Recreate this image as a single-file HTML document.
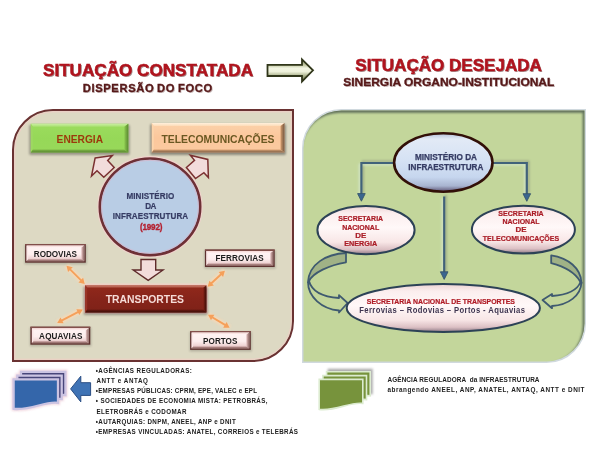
<!DOCTYPE html>
<html><head><meta charset="utf-8"><title>Situação</title>
<style>
html,body{margin:0;padding:0;background:#ffffff;width:616px;height:462px;overflow:hidden}
svg{display:block;will-change:transform;filter:blur(0.35px)}
text{font-family:"Liberation Sans", sans-serif}
</style></head>
<body>
<svg width="616" height="462" viewBox="0 0 616 462">
<defs>
<linearGradient id="gArrow" gradientUnits="userSpaceOnUse" x1="0" y1="59" x2="0" y2="82">
 <stop offset="0" stop-color="#8a9068"/><stop offset="0.27" stop-color="#c4caa4"/><stop offset="0.4" stop-color="#f2f5e2"/><stop offset="0.55" stop-color="#eef1da"/><stop offset="0.75" stop-color="#a4ac84"/><stop offset="1" stop-color="#747c54"/>
</linearGradient>
<linearGradient id="gSmall" x1="0" y1="0" x2="0" y2="1">
 <stop offset="0" stop-color="#fbeeee"/><stop offset="0.35" stop-color="#ffffff"/><stop offset="0.7" stop-color="#f6e4e4"/><stop offset="1" stop-color="#c89a9a"/>
</linearGradient>
<linearGradient id="gTrans" x1="0" y1="0" x2="0" y2="1">
 <stop offset="0" stop-color="#962b1c"/><stop offset="1" stop-color="#7c2216"/>
</linearGradient>
<linearGradient id="gEllB" x1="0" y1="0" x2="0" y2="1">
 <stop offset="0" stop-color="#b4c0d8"/><stop offset="0.1" stop-color="#e2eaf6"/><stop offset="0.45" stop-color="#d6e2f4"/><stop offset="0.75" stop-color="#c6d6ee"/><stop offset="0.9" stop-color="#a8b4d0"/><stop offset="1" stop-color="#5a5070"/>
</linearGradient>
<linearGradient id="gEllP" x1="0" y1="0" x2="0" y2="1">
 <stop offset="0" stop-color="#ecd2d2"/><stop offset="0.15" stop-color="#fbeeee"/><stop offset="0.45" stop-color="#fff8f8"/><stop offset="0.75" stop-color="#f8e6e6"/><stop offset="0.9" stop-color="#dcc0c4"/><stop offset="1" stop-color="#8e7a86"/>
</linearGradient>
<radialGradient id="gEdge" cx="0.5" cy="0.5" r="0.5">
 <stop offset="0.8" stop-color="#000" stop-opacity="0"/><stop offset="1" stop-color="#402030" stop-opacity="0.25"/>
</radialGradient>
<filter id="blur1" x="-20%" y="-20%" width="140%" height="140%"><feGaussianBlur stdDeviation="1"/></filter>
<filter id="blur2" x="-20%" y="-20%" width="140%" height="140%"><feGaussianBlur stdDeviation="1.6"/></filter>
<filter id="tsh" x="-5%" y="-20%" width="110%" height="140%"><feGaussianBlur stdDeviation="0.6"/></filter>
<linearGradient id="g1" x1="0" y1="0" x2="0" y2="1"><stop offset="0" stop-color="#9cdc5e"/><stop offset="0.5" stop-color="#96d858"/><stop offset="1" stop-color="#98d85a"/></linearGradient><linearGradient id="g2" x1="0" y1="0" x2="0" y2="1"><stop offset="0" stop-color="#c8eea0"/><stop offset="1" stop-color="#a8e070"/></linearGradient><linearGradient id="g3" x1="0" y1="0" x2="1" y2="0"><stop offset="0" stop-color="#8cc850"/><stop offset="1" stop-color="#5a8a30"/></linearGradient><linearGradient id="g4" x1="0" y1="0" x2="0" y2="1"><stop offset="0" stop-color="#80b848"/><stop offset="1" stop-color="#5a8a30"/></linearGradient><linearGradient id="g5" x1="0" y1="0" x2="0" y2="1"><stop offset="0" stop-color="#fcd2aa"/><stop offset="0.5" stop-color="#fbc79c"/><stop offset="1" stop-color="#fbcaa0"/></linearGradient><linearGradient id="g6" x1="0" y1="0" x2="0" y2="1"><stop offset="0" stop-color="#fff0dc"/><stop offset="1" stop-color="#fddcb8"/></linearGradient><linearGradient id="g7" x1="0" y1="0" x2="1" y2="0"><stop offset="0" stop-color="#d49c6c"/><stop offset="1" stop-color="#725640"/></linearGradient><linearGradient id="g8" x1="0" y1="0" x2="0" y2="1"><stop offset="0" stop-color="#d8a274"/><stop offset="1" stop-color="#7e5e44"/></linearGradient><linearGradient id="g9" x1="0" y1="0" x2="0" y2="1"><stop offset="0" stop-color="#92291b"/><stop offset="0.5" stop-color="#86241a"/><stop offset="1" stop-color="#7e2218"/></linearGradient><linearGradient id="g10" x1="0" y1="0" x2="0" y2="1"><stop offset="0" stop-color="#d08878"/><stop offset="1" stop-color="#a84838"/></linearGradient><linearGradient id="g11" x1="0" y1="0" x2="1" y2="0"><stop offset="0" stop-color="#7a1e14"/><stop offset="1" stop-color="#3e0e08"/></linearGradient><linearGradient id="g12" x1="0" y1="0" x2="0" y2="1"><stop offset="0" stop-color="#6a1a12"/><stop offset="1" stop-color="#3e0e08"/></linearGradient><linearGradient id="g13" x1="0" y1="0" x2="0" y2="1"><stop offset="0" stop-color="#fff4f4"/><stop offset="0.55" stop-color="#fdeeee"/><stop offset="0.8" stop-color="#f0d6d6"/><stop offset="1" stop-color="#d8b4b4"/></linearGradient><linearGradient id="g14" x1="0" y1="0" x2="0" y2="1"><stop offset="0" stop-color="#f6d8d6"/><stop offset="1" stop-color="#fff0f0"/></linearGradient><linearGradient id="g15" x1="0" y1="0" x2="1" y2="0"><stop offset="0" stop-color="#e6c4c4"/><stop offset="1" stop-color="#8a6460"/></linearGradient><linearGradient id="g16" x1="0" y1="0" x2="0" y2="1"><stop offset="0" stop-color="#c49c9c"/><stop offset="1" stop-color="#8a6460"/></linearGradient><linearGradient id="g17" x1="0" y1="0" x2="0" y2="1"><stop offset="0" stop-color="#fff4f4"/><stop offset="0.55" stop-color="#fdeeee"/><stop offset="0.8" stop-color="#f0d6d6"/><stop offset="1" stop-color="#d8b4b4"/></linearGradient><linearGradient id="g18" x1="0" y1="0" x2="0" y2="1"><stop offset="0" stop-color="#f6d8d6"/><stop offset="1" stop-color="#fff0f0"/></linearGradient><linearGradient id="g19" x1="0" y1="0" x2="1" y2="0"><stop offset="0" stop-color="#e6c4c4"/><stop offset="1" stop-color="#8a6460"/></linearGradient><linearGradient id="g20" x1="0" y1="0" x2="0" y2="1"><stop offset="0" stop-color="#c49c9c"/><stop offset="1" stop-color="#8a6460"/></linearGradient><linearGradient id="g21" x1="0" y1="0" x2="0" y2="1"><stop offset="0" stop-color="#fff4f4"/><stop offset="0.55" stop-color="#fdeeee"/><stop offset="0.8" stop-color="#f0d6d6"/><stop offset="1" stop-color="#d8b4b4"/></linearGradient><linearGradient id="g22" x1="0" y1="0" x2="0" y2="1"><stop offset="0" stop-color="#f6d8d6"/><stop offset="1" stop-color="#fff0f0"/></linearGradient><linearGradient id="g23" x1="0" y1="0" x2="1" y2="0"><stop offset="0" stop-color="#e6c4c4"/><stop offset="1" stop-color="#8a6460"/></linearGradient><linearGradient id="g24" x1="0" y1="0" x2="0" y2="1"><stop offset="0" stop-color="#c49c9c"/><stop offset="1" stop-color="#8a6460"/></linearGradient><linearGradient id="g25" x1="0" y1="0" x2="0" y2="1"><stop offset="0" stop-color="#fff4f4"/><stop offset="0.55" stop-color="#fdeeee"/><stop offset="0.8" stop-color="#f0d6d6"/><stop offset="1" stop-color="#d8b4b4"/></linearGradient><linearGradient id="g26" x1="0" y1="0" x2="0" y2="1"><stop offset="0" stop-color="#f6d8d6"/><stop offset="1" stop-color="#fff0f0"/></linearGradient><linearGradient id="g27" x1="0" y1="0" x2="1" y2="0"><stop offset="0" stop-color="#e6c4c4"/><stop offset="1" stop-color="#8a6460"/></linearGradient><linearGradient id="g28" x1="0" y1="0" x2="0" y2="1"><stop offset="0" stop-color="#c49c9c"/><stop offset="1" stop-color="#8a6460"/></linearGradient></defs>
<text x="44" y="77" font-size="16.8" font-weight="bold" fill="#3a0808" text-anchor="start" textLength="210" lengthAdjust="spacingAndGlyphs" opacity="0.45" filter="url(#tsh)">SITUAÇÃO CONSTATADA</text><text x="43" y="76" font-size="16.8" font-weight="bold" fill="#b0141e" text-anchor="start" textLength="210" lengthAdjust="spacingAndGlyphs" stroke="#b0141e" stroke-width="0.5">SITUAÇÃO CONSTATADA</text>
<text x="83.8" y="92.8" font-size="11.2" font-weight="bold" fill="#3a0808" text-anchor="start" textLength="129.3" lengthAdjust="spacing" opacity="0.25" filter="url(#tsh)">DISPERSÃO DO FOCO</text><text x="82.8" y="91.8" font-size="11.2" font-weight="bold" fill="#561818" text-anchor="start" textLength="129.3" lengthAdjust="spacing" stroke="#561818" stroke-width="0.35">DISPERSÃO DO FOCO</text>
<text x="356.3" y="71.5" font-size="16.8" font-weight="bold" fill="#3a0808" text-anchor="start" textLength="186.5" lengthAdjust="spacingAndGlyphs" opacity="0.45" filter="url(#tsh)">SITUAÇÃO DESEJADA</text><text x="355.3" y="70.5" font-size="16.8" font-weight="bold" fill="#b0141e" text-anchor="start" textLength="186.5" lengthAdjust="spacingAndGlyphs" stroke="#b0141e" stroke-width="0.5">SITUAÇÃO DESEJADA</text>
<text x="344.3" y="87" font-size="11.2" font-weight="bold" fill="#3a0808" text-anchor="start" textLength="211" lengthAdjust="spacingAndGlyphs" opacity="0.25" filter="url(#tsh)">SINERGIA ORGANO-INSTITUCIONAL</text><text x="343.3" y="86" font-size="11.2" font-weight="bold" fill="#561818" text-anchor="start" textLength="211" lengthAdjust="spacingAndGlyphs" stroke="#561818" stroke-width="0.35">SINERGIA ORGANO-INSTITUCIONAL</text>
<path d="M267.5,64.8 H302 V59.3 L313,70.3 L302,81.5 V76 H267.5 Z" fill="url(#gArrow)" stroke="#30361a" stroke-width="1.8" stroke-linejoin="miter"/>
<path d="M53,110 H293 V321 A40 40 0 0 1 253 361 H13 V150 A40 40 0 0 1 53 110 Z" fill="#ddd9c3" stroke="#6a3232" stroke-width="2"/>
<path d="M53,111.8 H291.2 V321 A38.2 38.2 0 0 1 253 359.2 H14.8 V150 A38.2 38.2 0 0 1 53 111.8 Z" fill="none" stroke="#f0cec6" stroke-width="1" opacity="1"/>
<rect x="29.2" y="124.8" width="100.5" height="30.200000000000003" rx="1.5" fill="#000" opacity="0.3" filter="url(#blur1)"/><rect x="30.8" y="123.8" width="97.5" height="28.6" fill="url(#g1)"/><polygon points="30.8,123.8 128.3,123.8 124.30000000000001,126.8 32.8,126.8" fill="url(#g2)"/><polygon points="30.8,123.8 32.8,126.8 32.8,149.4 30.8,152.4" fill="#9ed862"/><polygon points="128.3,123.8 128.3,152.4 124.30000000000001,149.4 124.30000000000001,126.8" fill="url(#g3)"/><polygon points="30.8,152.4 128.3,152.4 124.30000000000001,149.4 32.8,149.4" fill="url(#g4)"/>
<text x="56.6" y="143.3" font-size="10.2" font-weight="bold" fill="#9c3a0c" text-anchor="start" textLength="46.4" lengthAdjust="spacingAndGlyphs" >ENERGIA</text>
<rect x="150.20000000000002" y="124" width="135.7" height="31.1" rx="1.5" fill="#000" opacity="0.36" filter="url(#blur1)"/><rect x="151.8" y="123" width="132.7" height="29.5" fill="url(#g5)"/><polygon points="151.8,123 284.5,123 280.5,126 153.8,126" fill="url(#g6)"/><polygon points="151.8,123 153.8,126 153.8,149.5 151.8,152.5" fill="#fcd4aa"/><polygon points="284.5,123 284.5,152.5 280.5,149.5 280.5,126" fill="url(#g7)"/><polygon points="151.8,152.5 284.5,152.5 280.5,149.5 153.8,149.5" fill="url(#g8)"/>
<text x="161.4" y="142.7" font-size="10.4" font-weight="bold" fill="#6a5822" text-anchor="start" textLength="113.1" lengthAdjust="spacingAndGlyphs" >TELECOMUNICAÇÕES</text>
<polygon points="95.1,158.1 112.3,155.5 107.7,160.4 114.2,167.5 103.8,177.3 97,170.8 91.5,176" fill="#f2dcdb" stroke="#7a3030" stroke-width="1.5" stroke-linejoin="miter"/>
<polygon points="190.3,155.2 207.8,159.4 208.4,177.6 203.9,172.7 195.5,178.6 186.4,167.5 194.5,160.4" fill="#f2dcdb" stroke="#7a3030" stroke-width="1.5" stroke-linejoin="miter"/>
<ellipse cx="150" cy="206.8" rx="50.4" ry="48.5" fill="none" stroke="#f0d2cc" stroke-width="4.4"/>
<ellipse cx="150" cy="206.8" rx="50.2" ry="48.3" fill="#b9cde5" stroke="#6e3036" stroke-width="2.6"/>
<ellipse cx="150" cy="206.8" rx="48.4" ry="46.5" fill="none" stroke="#d8b4c8" stroke-width="0.9" opacity="0.8"/>
<text transform="translate(126.4,198.6) scale(0.9,1)" x="0" y="0" font-size="9" font-weight="bold" fill="#363c64" textLength="53.33" lengthAdjust="spacing" style="white-space:pre" stroke="#363c64" stroke-width="0.2">MINISTÉRIO</text>
<text transform="translate(145.20000000000002,208.7) scale(0.9,1)" x="0" y="0" font-size="9" font-weight="bold" fill="#363c64" textLength="12.44" lengthAdjust="spacing" style="white-space:pre" stroke="#363c64" stroke-width="0.2">DA</text>
<text transform="translate(112.69999999999999,218.9) scale(0.9,1)" x="0" y="0" font-size="9" font-weight="bold" fill="#363c64" textLength="83.89" lengthAdjust="spacing" style="white-space:pre" stroke="#363c64" stroke-width="0.2">INFRAESTRUTURA</text>
<text transform="translate(140.0,229.5) scale(0.9,1)" x="0" y="0" font-size="9" font-weight="bold" fill="#b42030" textLength="24.89" lengthAdjust="spacing" style="white-space:pre" stroke="#b42030" stroke-width="0.35">(1992)</text>
<polygon points="141,259.5 155.7,259.5 155.7,270 163,270 148.2,280.4 133.2,270 141,270" fill="#f2dcdb" stroke="#5e2a2a" stroke-width="1.4" stroke-linejoin="miter"/>
<rect x="83.6" y="283.6" width="124.4" height="30.5" rx="2.5" fill="#f4d0c6" opacity="0.9"/>
<rect x="83.60000000000001" y="286.2" width="124.2" height="28.900000000000002" rx="1.5" fill="#000" opacity="0.3" filter="url(#blur1)"/><rect x="85.2" y="285.2" width="121.2" height="27.3" fill="url(#g9)"/><polygon points="85.2,285.2 206.4,285.2 203.4,287.7 87.2,287.7" fill="url(#g10)"/><polygon points="85.2,285.2 87.2,287.7 87.2,309.5 85.2,312.5" fill="#9a3426"/><polygon points="206.4,285.2 206.4,312.5 203.4,309.5 203.4,287.7" fill="url(#g11)"/><polygon points="85.2,312.5 206.4,312.5 203.4,309.5 87.2,309.5" fill="url(#g12)"/>
<text x="105.7" y="302.7" font-size="10.4" font-weight="bold" fill="#f6dcd8" text-anchor="start" textLength="78.3" lengthAdjust="spacingAndGlyphs" >TRANSPORTES</text>
<rect x="24.6" y="244.9" width="62.2" height="19.400000000000002" fill="#000" opacity="0.18" filter="url(#blur1)"/><rect x="25.1" y="244.1" width="60.7" height="18.6" fill="#5e3230"/><rect x="25.1" y="244.1" width="60.7" height="1.4" fill="#84504c"/><rect x="26.6" y="245.6" width="57.7" height="15.600000000000001" fill="url(#g13)"/><polygon points="26.6,245.6 84.30000000000001,245.6 81.30000000000001,247.6 28.1,247.6" fill="url(#g14)"/><polygon points="26.6,245.6 28.1,247.6 28.1,259.2 26.6,261.2" fill="#fbe6e6"/><polygon points="84.30000000000001,245.6 84.30000000000001,261.2 81.30000000000001,259.2 81.30000000000001,247.6" fill="url(#g15)"/><polygon points="26.6,261.2 84.30000000000001,261.2 81.30000000000001,259.2 28.1,259.2" fill="url(#g16)"/><text transform="translate(33.8,256.5) scale(0.95,1)" x="0" y="0" font-size="8.6" font-weight="bold" fill="#1c1c1c" textLength="45.47" lengthAdjust="spacing" style="white-space:pre" >RODOVIAS</text>
<rect x="204.4" y="250.3" width="71.3" height="18.3" fill="#000" opacity="0.18" filter="url(#blur1)"/><rect x="204.9" y="249.5" width="69.8" height="17.5" fill="#5e3230"/><rect x="204.9" y="249.5" width="69.8" height="1.4" fill="#84504c"/><rect x="206.4" y="251.0" width="66.8" height="14.5" fill="url(#g17)"/><polygon points="206.4,251.0 273.2,251.0 270.2,253.0 207.9,253.0" fill="url(#g18)"/><polygon points="206.4,251.0 207.9,253.0 207.9,263.5 206.4,265.5" fill="#fbe6e6"/><polygon points="273.2,251.0 273.2,265.5 270.2,263.5 270.2,253.0" fill="url(#g19)"/><polygon points="206.4,265.5 273.2,265.5 270.2,263.5 207.9,263.5" fill="url(#g20)"/><text transform="translate(215.5,261.35) scale(0.95,1)" x="0" y="0" font-size="8.6" font-weight="bold" fill="#1c1c1c" textLength="50.74" lengthAdjust="spacing" style="white-space:pre" >FERROVIAS</text>
<rect x="29.9" y="327.5" width="61.4" height="18.8" fill="#000" opacity="0.18" filter="url(#blur1)"/><rect x="30.4" y="326.7" width="59.9" height="18" fill="#5e3230"/><rect x="30.4" y="326.7" width="59.9" height="1.4" fill="#84504c"/><rect x="31.9" y="328.2" width="56.9" height="15.0" fill="url(#g21)"/><polygon points="31.9,328.2 88.8,328.2 85.8,330.2 33.4,330.2" fill="url(#g22)"/><polygon points="31.9,328.2 33.4,330.2 33.4,341.2 31.9,343.2" fill="#fbe6e6"/><polygon points="88.8,328.2 88.8,343.2 85.8,341.2 85.8,330.2" fill="url(#g23)"/><polygon points="31.9,343.2 88.8,343.2 85.8,341.2 33.4,341.2" fill="url(#g24)"/><text transform="translate(39.1,338.8) scale(0.95,1)" x="0" y="0" font-size="8.6" font-weight="bold" fill="#1c1c1c" textLength="45.68" lengthAdjust="spacing" style="white-space:pre" >AQUAVIAS</text>
<rect x="189.6" y="331.8" width="62.2" height="19.7" fill="#000" opacity="0.18" filter="url(#blur1)"/><rect x="190.1" y="331" width="60.7" height="18.9" fill="#5e3230"/><rect x="190.1" y="331" width="60.7" height="1.4" fill="#84504c"/><rect x="191.6" y="332.5" width="57.7" height="15.899999999999999" fill="url(#g25)"/><polygon points="191.6,332.5 249.3,332.5 246.3,334.5 193.1,334.5" fill="url(#g26)"/><polygon points="191.6,332.5 193.1,334.5 193.1,346.4 191.6,348.4" fill="#fbe6e6"/><polygon points="249.3,332.5 249.3,348.4 246.3,346.4 246.3,334.5" fill="url(#g27)"/><polygon points="191.6,348.4 249.3,348.4 246.3,346.4 193.1,346.4" fill="url(#g28)"/><text transform="translate(203.1,343.55) scale(0.95,1)" x="0" y="0" font-size="8.6" font-weight="bold" fill="#1c1c1c" textLength="36.11" lengthAdjust="spacing" style="white-space:pre" >PORTOS</text>
<line x1="66.5" y1="265.8" x2="84.7" y2="284" stroke="#fbd8b4" stroke-width="5.4" opacity="0.75" filter="url(#blur1)"/><line x1="69.61126983722082" y1="268.9112698372208" x2="81.58873016277919" y2="280.8887301627792" stroke="#f5a05a" stroke-width="1.9"/><polygon points="66.50,265.80 68.06,272.02 72.72,267.36" fill="#f5a05a"/><polygon points="84.70,284.00 78.48,282.44 83.14,277.78" fill="#f5a05a"/>
<line x1="224.9" y1="270.8" x2="207.6" y2="286.8" stroke="#fbd8b4" stroke-width="5.4" opacity="0.75" filter="url(#blur1)"/><line x1="221.66972978210254" y1="273.7875331495006" x2="210.83027021789746" y2="283.81246685049945" stroke="#f5a05a" stroke-width="1.9"/><polygon points="224.90,270.80 218.62,272.11 223.10,276.96" fill="#f5a05a"/><polygon points="207.60,286.80 209.40,280.64 213.88,285.49" fill="#f5a05a"/>
<line x1="82.7" y1="309.5" x2="57.2" y2="322.9" stroke="#fbd8b4" stroke-width="5.4" opacity="0.75" filter="url(#blur1)"/><line x1="78.80503531072398" y1="311.5467657582862" x2="61.094964689276026" y2="320.8532342417138" stroke="#f5a05a" stroke-width="1.9"/><polygon points="82.70,309.50 76.30,309.14 79.37,314.98" fill="#f5a05a"/><polygon points="57.20,322.90 60.53,317.42 63.60,323.26" fill="#f5a05a"/>
<line x1="208" y1="314.7" x2="229.6" y2="327.7" stroke="#fbd8b4" stroke-width="5.4" opacity="0.75" filter="url(#blur1)"/><line x1="211.76988540936568" y1="316.968912514896" x2="225.8301145906343" y2="325.431087485104" stroke="#f5a05a" stroke-width="1.9"/><polygon points="208.00,314.70 211.01,320.36 214.41,314.71" fill="#f5a05a"/><polygon points="229.60,327.70 223.19,327.69 226.59,322.04" fill="#f5a05a"/>
<clipPath id="cpG"><path d="M342.5,110.5 H584.5 V323.5 A38 38 0 0 1 546.5 361.5 H303.5 V148.5 A38 38 0 0 1 342.5 110.5 Z"/></clipPath>
<path d="M342.5,110.5 H584.5 V323.5 A38 38 0 0 1 546.5 361.5 H303.5 V148.5 A38 38 0 0 1 342.5 110.5 Z" fill="none" stroke="#d0d9de" stroke-width="3"/>
<path d="M342.5,110.5 H584.5 V323.5 A38 38 0 0 1 546.5 361.5 H303.5 V148.5 A38 38 0 0 1 342.5 110.5 Z" fill="#c3d69b"/>
<g clip-path="url(#cpG)"><path d="M250,60 H650 V420 H250 Z M342.5,110.5 H584.5 V323.5 A38 38 0 0 1 546.5 361.5 H303.5 V148.5 A38 38 0 0 1 342.5 110.5 Z" fill="#5e6e5a" fill-rule="evenodd" transform="translate(-1.8,2.2)" filter="url(#blur1)" opacity="1"/></g>
<g stroke="#98a684" transform="translate(1.5,-1.5)" filter="url(#blur1)" opacity="0.9"><polyline points="394,163 361.4,163 361.4,195" fill="none" stroke-width="2.2"/><polyline points="493,163 526.8,163 526.8,195" fill="none" stroke-width="2.2"/><line x1="444.2" y1="196.5" x2="444.2" y2="273" stroke-width="2.2"/></g>
<g stroke="#d4e6cc" transform="translate(-1.5,1.5)" filter="url(#blur1)" opacity="0.9"><polyline points="394,163 361.4,163 361.4,195" fill="none" stroke-width="2.2"/><polyline points="493,163 526.8,163 526.8,195" fill="none" stroke-width="2.2"/><line x1="444.2" y1="196.5" x2="444.2" y2="273" stroke-width="2.2"/></g>
<g stroke="#41627a"><polyline points="394,163 361.4,163 361.4,195" fill="none" stroke-width="2.2"/><polyline points="493,163 526.8,163 526.8,195" fill="none" stroke-width="2.2"/><line x1="444.2" y1="196.5" x2="444.2" y2="273" stroke-width="2.2"/></g>
<polygon points="357.59999999999997,193.6 365.2,193.6 361.4,201.2" fill="#3a6690" stroke="#38566a" stroke-width="0.9" stroke-linejoin="round"/>
<polygon points="523.0,193.70000000000002 530.5999999999999,193.70000000000002 526.8,201.3" fill="#3a6690" stroke="#38566a" stroke-width="0.9" stroke-linejoin="round"/>
<polygon points="440.4,271.79999999999995 448.0,271.79999999999995 444.2,279.4" fill="#3a6690" stroke="#38566a" stroke-width="0.9" stroke-linejoin="round"/>
<path d="M346,253 C326,254 309,264 308,282 L309,281 C313,273 329,265 346,262.3 Z" fill="#a0b286" stroke="#3f5a70" stroke-width="1.8" stroke-linejoin="round"/>
<path d="M308,282 C308,297 322,309 339,310.5 V312.5 L347.6,303 L339,295.2 V298 C324,297 312,292 309,281" fill="none" stroke="#3f5a70" stroke-width="1.8" stroke-linejoin="round"/>
<path d="M551.2,255.4 C568,258 581,268 581.5,283 L580.5,282 C576,274 566,267 551.2,263.2 Z" fill="#a0b286" stroke="#3f5a70" stroke-width="1.8" stroke-linejoin="round"/>
<path d="M581.5,282 C581,296 568,305 552,306 V308.2 L542.5,300 L552,294 V296 C566,295 577,291 580.5,282" fill="none" stroke="#3f5a70" stroke-width="1.8" stroke-linejoin="round"/>
<ellipse cx="443.3" cy="162.5" rx="49.2" ry="29.3" fill="url(#gEllB)" stroke="#321008" stroke-width="2.6"/>
<text x="446" y="159.7" font-size="8.3" font-weight="bold" fill="#363c64" text-anchor="middle" textLength="62" lengthAdjust="spacingAndGlyphs" stroke="#363c64" stroke-width="0.25">MINISTÉRIO DA</text>
<text x="445.8" y="169.8" font-size="8.3" font-weight="bold" fill="#363c64" text-anchor="middle" textLength="75" lengthAdjust="spacingAndGlyphs" stroke="#363c64" stroke-width="0.25">INFRAESTRUTURA</text>
<ellipse cx="366" cy="230.1" rx="48.6" ry="24.2" fill="url(#gEllP)" stroke="#2c4256" stroke-width="2"/>
<text x="360.7" y="221.3" font-size="7.0" font-weight="bold" fill="#aa1c26" text-anchor="middle" textLength="44.8" lengthAdjust="spacingAndGlyphs" stroke="#aa1c26" stroke-width="0.2">SECRETARIA</text>
<text x="360.7" y="229.6" font-size="7.0" font-weight="bold" fill="#aa1c26" text-anchor="middle" textLength="37" lengthAdjust="spacingAndGlyphs" stroke="#aa1c26" stroke-width="0.2">NACIONAL</text>
<text x="360.7" y="237.6" font-size="7.0" font-weight="bold" fill="#aa1c26" text-anchor="middle" textLength="11" lengthAdjust="spacingAndGlyphs" stroke="#aa1c26" stroke-width="0.2">DE</text>
<text x="360.7" y="246" font-size="7.0" font-weight="bold" fill="#aa1c26" text-anchor="middle" textLength="33" lengthAdjust="spacingAndGlyphs" stroke="#aa1c26" stroke-width="0.2">ENERGIA</text>
<ellipse cx="523.4" cy="229.6" rx="51.5" ry="23.9" fill="url(#gEllP)" stroke="#2c4256" stroke-width="2"/>
<text x="521" y="216" font-size="7.0" font-weight="bold" fill="#aa1c26" text-anchor="middle" textLength="45.4" lengthAdjust="spacingAndGlyphs" stroke="#aa1c26" stroke-width="0.2">SECRETARIA</text>
<text x="521" y="224.2" font-size="7.0" font-weight="bold" fill="#aa1c26" text-anchor="middle" textLength="37" lengthAdjust="spacingAndGlyphs" stroke="#aa1c26" stroke-width="0.2">NACIONAL</text>
<text x="521" y="232.4" font-size="7.0" font-weight="bold" fill="#aa1c26" text-anchor="middle" textLength="11" lengthAdjust="spacingAndGlyphs" stroke="#aa1c26" stroke-width="0.2">DE</text>
<text x="521" y="240.8" font-size="7.0" font-weight="bold" fill="#aa1c26" text-anchor="middle" textLength="76.4" lengthAdjust="spacingAndGlyphs" stroke="#aa1c26" stroke-width="0.2">TELECOMUNICAÇÕES</text>
<ellipse cx="443.3" cy="308" rx="96.6" ry="24" fill="url(#gEllP)" stroke="#2c4256" stroke-width="2"/>
<text x="366.8" y="303.5" font-size="7.0" font-weight="bold" fill="#b01c26" text-anchor="start" textLength="148.2" lengthAdjust="spacingAndGlyphs" stroke="#b01c26" stroke-width="0.2">SECRETARIA NACIONAL DE TRANSPORTES</text>
<text transform="translate(359.2,312.5) scale(0.86,1)" x="0" y="0" font-size="8.9" font-weight="bold" fill="#3e3550" textLength="192.79" lengthAdjust="spacing" style="white-space:pre" >Ferrovias – Rodovias – Portos - Aquavias</text>
<path d="M13.6,379.4 H58.0 V402.79999999999995 C44.68,400.79999999999995 31.36,410.79999999999995 13.6,408.79999999999995 Z M17.3,375.59999999999997 H61.7 V398.99999999999994 C48.379999999999995,396.99999999999994 35.06,406.99999999999994 17.3,404.99999999999994 Z M21.0,371.79999999999995 H65.4 V395.19999999999993 C52.08,393.19999999999993 38.760000000000005,403.19999999999993 21.0,401.19999999999993 Z" fill="#f0d0da" stroke="#f0d0da" stroke-width="4" filter="url(#blur1)" opacity="0.9"/><path d="M21.0,371.79999999999995 H65.4 V395.19999999999993 C52.08,393.19999999999993 38.760000000000005,403.19999999999993 21.0,401.19999999999993 Z" fill="#48467a" stroke="#ccc4e2" stroke-width="2.3"/><path d="M17.3,375.59999999999997 H61.7 V398.99999999999994 C48.379999999999995,396.99999999999994 35.06,406.99999999999994 17.3,404.99999999999994 Z" fill="#48467a" stroke="#ccc4e2" stroke-width="2.3"/><path d="M13.6,379.4 H58.0 V402.79999999999995 C44.68,400.79999999999995 31.36,410.79999999999995 13.6,408.79999999999995 Z" fill="#3466aa" stroke="#ccc4e2" stroke-width="2.3"/>
<polygon points="70.6,388.9 80.8,376.2 80.8,382.7 90.6,382.7 90.6,395.4 80.8,395.4 80.8,401.9" fill="#3f73b5" stroke="#2a4e84" stroke-width="1"/>
<text transform="translate(95.8,372.7) scale(0.78,1)" x="0" y="0" font-size="8.0" font-weight="bold" fill="#202020" textLength="123.08" lengthAdjust="spacing" style="white-space:pre" >•AGÊNCIAS REGULADORAS:</text>
<text transform="translate(96.4,382.5) scale(0.78,1)" x="0" y="0" font-size="8.0" font-weight="bold" fill="#202020" textLength="66.03" lengthAdjust="spacing" style="white-space:pre" >ANTT e ANTAQ</text>
<text transform="translate(95.8,392.8) scale(0.78,1)" x="0" y="0" font-size="8.0" font-weight="bold" fill="#202020" textLength="206.67" lengthAdjust="spacing" style="white-space:pre" >•EMPRESAS PÚBLICAS: CPRM, EPE, VALEC e EPL</text>
<text transform="translate(95.8,403.3) scale(0.78,1)" x="0" y="0" font-size="8.0" font-weight="bold" fill="#202020" textLength="220.13" lengthAdjust="spacing" style="white-space:pre" >• SOCIEDADES DE ECONOMIA MISTA: PETROBRÁS,</text>
<text transform="translate(96.4,413.6) scale(0.78,1)" x="0" y="0" font-size="8.0" font-weight="bold" fill="#202020" textLength="115.38" lengthAdjust="spacing" style="white-space:pre" >ELETROBRÁS e CODOMAR</text>
<text transform="translate(95.8,424) scale(0.78,1)" x="0" y="0" font-size="8.0" font-weight="bold" fill="#202020" textLength="179.36" lengthAdjust="spacing" style="white-space:pre" >•AUTARQUIAS: DNPM, ANEEL, ANP e DNIT</text>
<text transform="translate(95.8,434.1) scale(0.78,1)" x="0" y="0" font-size="8.0" font-weight="bold" fill="#202020" textLength="259.10" lengthAdjust="spacing" style="white-space:pre" >•EMPRESAS VINCULADAS: ANATEL, CORREIOS e TELEBRÁS</text>
<path d="M328.4,369.59999999999997 H372.0 V393.59999999999997 C358.91999999999996,391.59999999999997 345.84,401.59999999999997 328.4,399.59999999999997 Z" fill="#8c8c8c" stroke="#8c8c8c" stroke-width="1.5" filter="url(#blur1)" opacity="0.7"/><path d="M326.59999999999997,371.79999999999995 H370.2 V395.79999999999995 C357.11999999999995,393.79999999999995 344.03999999999996,403.79999999999995 326.59999999999997,401.79999999999995 Z" fill="#77933c" stroke="#dcebd0" stroke-width="1.6"/><path d="M322.9,375.59999999999997 H366.5 V399.59999999999997 C353.41999999999996,397.59999999999997 340.34,407.59999999999997 322.9,405.59999999999997 Z" fill="#77933c" stroke="#dcebd0" stroke-width="1.6"/><path d="M319.2,379.4 H362.8 V403.4 C349.71999999999997,401.4 336.64,411.4 319.2,409.4 Z" fill="#77933c" stroke="#dcebd0" stroke-width="1.6"/>
<text transform="translate(387.5,382.3) scale(0.8,1)" x="0" y="0" font-size="8.0" font-weight="bold" fill="#222222" textLength="190.00" lengthAdjust="spacing" style="white-space:pre" >AGÊNCIA REGULADORA  da INFRAESTRUTURA</text>
<text transform="translate(387.5,392.4) scale(0.8,1)" x="0" y="0" font-size="8.0" font-weight="bold" fill="#222222" textLength="246.25" lengthAdjust="spacing" style="white-space:pre" >abrangendo ANEEL, ANP, ANATEL, ANTAQ, ANTT e DNIT</text>
</svg>
</body></html>
